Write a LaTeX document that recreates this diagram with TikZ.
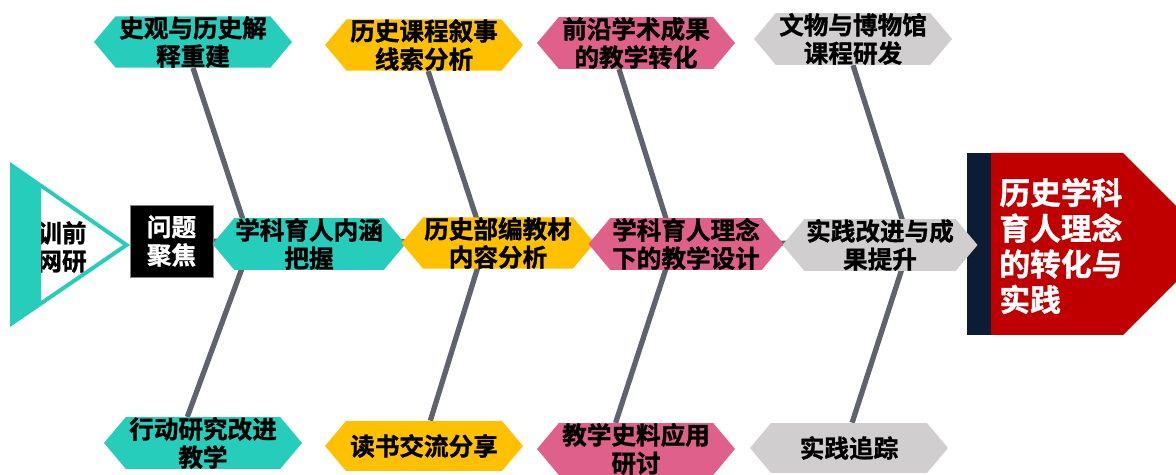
\documentclass[tikz,border=0pt]{standalone}
\usepackage{fontspec}
\setmainfont{Noto Sans CJK SC}[BoldFont={* Bold}, BoldFeatures={FakeBold=1.2}]
\usetikzlibrary{shapes.symbols,backgrounds}
\definecolor{fishteal}{RGB}{38,205,186}
\definecolor{fishamber}{RGB}{255,192,0}
\definecolor{fishrose}{RGB}{224,96,140}
\definecolor{fishgray}{RGB}{208,206,207}
\definecolor{bonegray}{RGB}{94,99,110}
\definecolor{goalnavy}{RGB}{12,28,50}
\definecolor{goalred}{RGB}{192,0,0}
\begin{document}
\begin{tikzpicture}[x=0.02cm, y=-0.02cm,
  every node/.style={font=\bfseries\fontsize{14}{16}\selectfont},
  hexbox/.style={signal, signal to=west and east, signal pointer angle=100,
    minimum width=3.96cm, minimum height=1cm, inner sep=0pt, align=center},
  bone/.style={draw=bonegray, line width=3pt}]
\useasboundingbox (0,0) rectangle (1176,475);
\clip (0,0) rectangle (1176,475);

% left start and problem focus
\node[align=center] (pre) at (62,247) {训前\\网研};
\fill[fishteal, even odd rule] (10,162) -- (130,245) -- (10,327) -- cycle
  (41,188) -- (123,245) -- (41,301) -- cycle;

\node[fill=black, draw=gray, text=white, minimum width=1.66cm, minimum height=1.44cm,
  inner sep=0pt, align=center] (focus) at (171.5,241) {问题\\聚焦};

% goal head
\node[fill=goalnavy, minimum width=0.48cm, minimum height=3.66cm, inner sep=0pt] (goalbar) at (979,244) {};
\fill[goalred] (991,153) -- (1123,153) -- (1214,244) -- (1123,335) -- (991,335) -- cycle;
\node[anchor=west, align=left, text=white, inner sep=0pt,
  font=\bfseries\fontsize{17.5}{20.3}\selectfont] (goal) at (999,246) {历史学科\\育人理念\\的转化与\\实践};

% middle row
\node[hexbox, fill=fishteal, minimum width=3.86cm] (connotation) at (309,244) {学科育人内涵\\把握};
\node[hexbox, fill=fishamber, minimum width=3.86cm] (textbook) at (498,243) {历史部编教材\\内容分析};
\node[hexbox, fill=fishrose, minimum width=3.9cm] (design) at (686,244) {学科育人理念\\下的教学设计};
\node[hexbox, fill=fishgray, minimum width=3.9cm] (improve) at (880,245) {实践改进与成\\果提升};

% top row
\node[hexbox, fill=fishteal] (theory) at (193,42) {史观与历史解\\释重建};
\node[hexbox, fill=fishamber] (narrative) at (424,45) {历史课程叙事\\线索分析};
\node[hexbox, fill=fishrose] (frontier) at (636,43) {前沿学术成果\\的教学转化};
\node[hexbox, fill=fishgray] (museum) at (853,39) {文物与博物馆\\课程研发};

% bottom row
\node[hexbox, fill=fishteal] (action) at (203,443) {行动研究改进\\教学};
\node[hexbox, fill=fishamber] (reading) at (424,446) {读书交流分享};
\node[hexbox, fill=fishrose] (sources) at (636,449) {教学史料应用\\研讨};
\node[hexbox, fill=fishgray] (tracking) at (849,448) {实践追踪};

\coordinate (j1) at (251,244);
\coordinate (j2) at (485,244);
\coordinate (j3) at (674,244);
\coordinate (j4) at (910,244);

\begin{scope}[on background layer]
\draw[bone] (focus) -- (goalbar);
\draw[bone] (theory.270) -- (j1) -- (action.121);
\draw[bone] (narrative.279) -- (j2) -- (reading.76);
\draw[bone] (frontier.237) -- (j3) -- (sources.128);
\draw[bone] (museum.270) -- (j4) -- (tracking.83);
\end{scope}
\end{tikzpicture}
\end{document}
